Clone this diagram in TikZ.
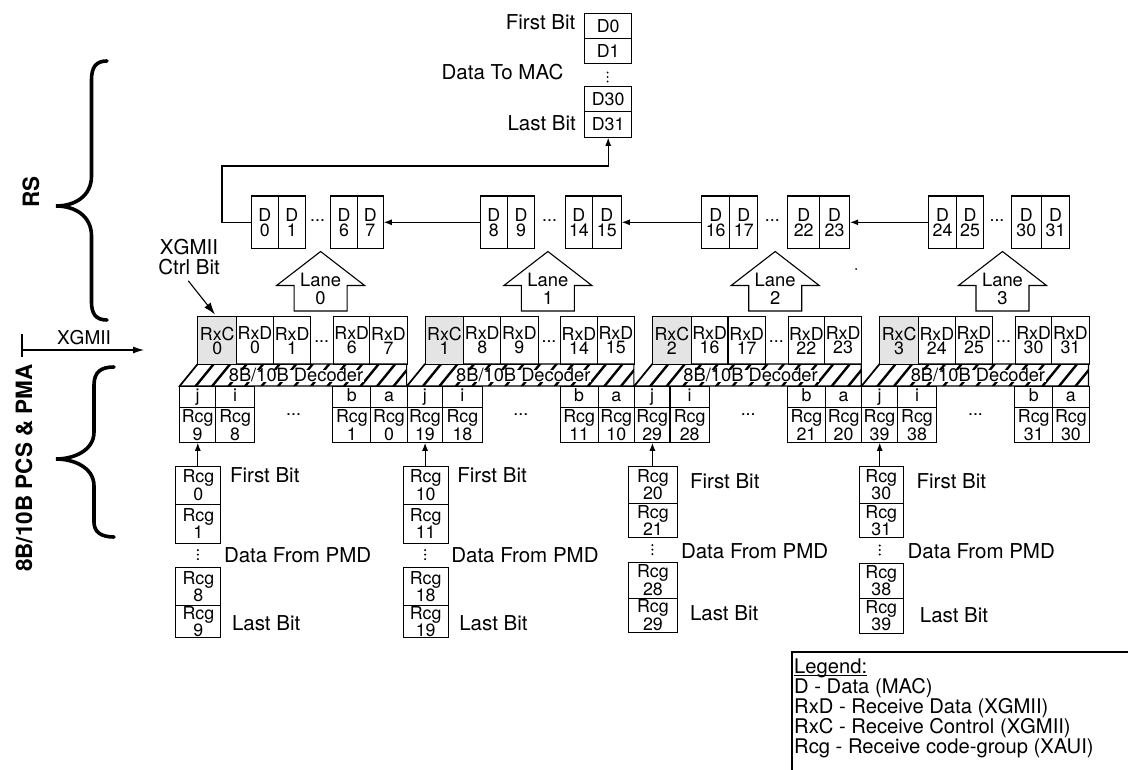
\documentclass[tikz,border=0pt]{standalone}
\usepackage{fontspec}
\setmainfont{TeX Gyre Heros}
\usetikzlibrary{arrows.meta}
\definecolor{ctrlgray}{HTML}{E4E4E4}
\newcommand\mybox[7][]{%
  \pgfmathsetmacro\mybw{(#5)-(#3)}%
  \pgfmathsetmacro\mybh{(#6)-(#4)}%
  \node[cell,#1,minimum width=\mybw pt,minimum height=\mybh pt] (#2) at ({#3},{#4}) {#7};}
\newcommand\myvdots[2]{%
  \fill ({#1},{#2-4.5}) circle (1.1pt);
  \fill ({#1},{#2}) circle (1.1pt);
  \fill ({#1},{#2+4.5}) circle (1.1pt);}
\newcommand\myul[1]{\setbox0\hbox{#1}\rlap{\rule[-2.2pt]{\wd0}{1pt}}\box0}
\begin{document}
\begin{tikzpicture}[x=1pt,y=-1pt,
  cell/.style={draw,line width=1.1pt,inner sep=0pt,align=center,anchor=north west,font=\fontsize{17.8}{14}\selectfont},
  dcell/.style={font=\fontsize{17.8}{15}\selectfont},
  letter/.style={text height=12pt,text depth=3.5pt},
  ctrl/.style={fill=ctrlgray},
  lbl/.style={inner sep=0pt,font=\fontsize{20.5}{20.6}\selectfont},
  dotsn/.style={inner sep=0pt,font=\fontsize{17.8}{14}\selectfont},
  arr/.style={line width=1.1pt,-{Latex[length=8pt,width=6pt]}},
  side/.style={inner sep=0pt,font=\fontsize{22.5}{22}\selectfont\bfseries,rotate=90},
  lanetxt/.style={inner sep=0pt,align=center,font=\fontsize{18.4}{18}\selectfont},
  dec/.style={fill=white,inner xsep=1pt,inner ysep=0pt,text height=12pt,text depth=0.5pt,font=\fontsize{18.3}{18}\selectfont},
  legendtxt/.style={inner sep=0pt,align=left,anchor=north west,font=\fontsize{20.2}{20}\selectfont},
  brace/.style={line width=3.6pt,line cap=round}
]
\useasboundingbox (0,0) rectangle (1128,770);
\fill[white] (0,0) rectangle (1128,770);

% ---------- top stack (data to MAC)
\mybox{t0}{584.3}{13.3}{631}{37.7}{D0}
\mybox{t1}{584.3}{37.7}{631}{63.3}{D1}
\myvdots{607.6}{77}
\mybox{t30}{584.3}{86}{631}{111}{D30}
\mybox{t31}{584.3}{111}{631}{136.7}{D31}
\node[lbl,anchor=east] (tfb) at (575.5,21.7) {First Bit};
\node[lbl,anchor=east] (tdm) at (563.5,71.7) {Data To MAC};
\node[lbl,anchor=east] (tlb) at (576,123) {Last Bit};

% ---------- lanes
\foreach \k/\da/\db/\dc/\dd/\de/\df/\ya/\yb/\yc/\yd/\ye/\yf/\sh/\sw/\fx/\fy/\mx/\my/\lx/\ly in {%
 0/251/277.7/305/330.3/356.7/382.7/465.7/503.5/542.5/566.7/605/636.7/-22.5/45/32/475/26/555/34/623.3,
 1/480/506.7/534.3/565/591.7/620.7/465.7/503.5/542.5/566.7/605/636.7/-22.5/45/32/475/26/555/34/623.3,
 2/701/729.3/757.3/787.3/819/849/465.7/502.7/537.3/562/597.5/632/-24.5/49/37.4/481/28.4/550.7/37.4/612.7,
 3/928.3/955.7/983.3/1010.7/1040.7/1069.3/465.7/502.7/537.3/562.7/597.7/632.7/-21/44/36.7/481/27.7/550.7/40/615}{
  \pgfmathsetmacro\laneX{197.3+227.3*\k}
  \pgfmathsetmacro\laneJ{\laneX-18}
  \pgfmathsetmacro\laneA{\laneJ+18.5}
  \pgfmathsetmacro\laneT{\laneX+123.3}
  \pgfmathtruncatemacro\nDa{8*\k}
  \pgfmathtruncatemacro\nDb{8*\k+1}
  \pgfmathtruncatemacro\nDc{8*\k+6}
  \pgfmathtruncatemacro\nDd{8*\k+7}
  \pgfmathtruncatemacro\nRa{10*\k+9}
  \pgfmathtruncatemacro\nRb{10*\k+8}
  \pgfmathtruncatemacro\nRc{10*\k+1}
  \pgfmathtruncatemacro\nRd{10*\k}
  \pgfmathtruncatemacro\nSa{10*\k}
  \pgfmathtruncatemacro\nSb{10*\k+1}
  \pgfmathtruncatemacro\nSc{10*\k+8}
  \pgfmathtruncatemacro\nSd{10*\k+9}
  % D row
  \mybox[dcell]{dA\k}{\da}{195.5}{\db}{248}{D\\\nDa}
  \mybox[dcell]{dB\k}{\db}{195.5}{\dc}{248}{D\\\nDb}
  \node[dotsn] (ddots\k) at ({(\dc+\dd)/2},221) {...};
  \mybox[dcell]{dC\k}{\dd}{195.5}{\de}{248}{D\\\nDc}
  \mybox[dcell]{dD\k}{\de}{195.5}{\df}{248}{D\\\nDd}
  % lane arrow
  \draw[line width=1.1pt,fill=white] (\laneT,251.5) -- ({\laneT+44},285.5) -- ({\laneT+26.5},285.5) -- ({\laneT+26.5},311) -- ({\laneT-26.5},311) -- ({\laneT-26.5},285.5) -- ({\laneT-44},285.5) -- cycle;
  \node[lanetxt] (lane\k) at (\laneT,289) {Lane\\\k};
  % decoder band
  \begin{scope}
    \clip (\laneJ,386) -- (\laneX,364) -- ({\laneX+209.3},364) -- ({\laneX+209.3},386) -- cycle;
    \foreach \s in {0,...,13}{\draw[line width=2.4pt] ({\laneJ+16.5*\s-3.3},390) -- ++(24.5,-30);}
  \end{scope}
  \draw[line width=1.1pt] (\laneJ,386) -- (\laneX,364) -- ({\laneX+209.3},364) -- ({\laneX+209.3},386) -- cycle;
  \node[dec] (dec\k) at ({\laneX+98.7},376) {8B/10B Decoder};
  % XGMII row
  \mybox[ctrl]{rxc\k}{\laneX}{316}{\laneX+38.7}{364}{RxC\\\k}
  \mybox{rxa\k}{\laneX+38.7}{316}{\laneX+75.5}{364}{RxD\\\nDa}
  \mybox{rxb\k}{\laneX+75.5}{316}{\laneX+113}{364}{RxD\\\nDb}
  \node[dotsn] (rdots\k) at ({\laneX+124.4},341.7) {...};
  \mybox{rxc\k x}{\laneX+135.7}{316}{\laneX+172}{364}{RxD\\\nDc}
  \mybox{rxd\k}{\laneX+172}{316}{\laneX+209.3}{364}{RxD\\\nDd}
  % code-group row
  \mybox[letter]{lj\k}{\laneJ}{386}{\laneJ+35.5}{407}{j}
  \mybox[letter]{li\k}{\laneJ+35.5}{386}{\laneJ+75}{407}{i}
  \mybox[letter]{lb\k}{\laneJ+153}{386}{\laneJ+191}{407}{b}
  \mybox[letter]{la\k}{\laneJ+191}{386}{\laneJ+227.3}{407}{a}
  \mybox{rj\k}{\laneJ}{407}{\laneJ+35.5}{441.7}{Rcg\\\nRa}
  \mybox{ri\k}{\laneJ+35.5}{407}{\laneJ+75}{441.7}{Rcg\\\nRb}
  \node[dotsn] (bdots\k) at ({\laneJ+114.3},415) {...};
  \mybox{rb\k}{\laneJ+153}{407}{\laneJ+191}{441.7}{Rcg\\\nRc}
  \mybox{ra\k}{\laneJ+191}{407}{\laneJ+227.3}{441.7}{Rcg\\\nRd}
  % input stack
  \mybox{sa\k}{\laneA+\sh}{\ya}{\laneA+\sh+\sw}{\yb}{Rcg\\\nSa}
  \mybox{sb\k}{\laneA+\sh}{\yb}{\laneA+\sh+\sw}{\yc}{Rcg\\\nSb}
  \pgfmathsetmacro\midy{(\yc+\yd)/2}
  \myvdots{\laneA}{\midy}
  \mybox{sc\k}{\laneA+\sh}{\yd}{\laneA+\sh+\sw}{\ye}{Rcg\\\nSc}
  \mybox{sd\k}{\laneA+\sh}{\ye}{\laneA+\sh+\sw}{\yf}{Rcg\\\nSd}
  \draw[arr] (sa\k.north -| \laneA,0) -- (rj\k.south -| \laneA,0);
  \node[lbl,anchor=west] (fb\k) at ({\laneA+\fx},\fy) {First Bit};
  \node[lbl,anchor=west] (dp\k) at ({\laneA+\mx},\my) {Data From PMD};
  \node[lbl,anchor=west] (lb\k) at ({\laneA+\lx},\ly) {Last Bit};
}

% ---------- connectors between D groups
\draw[arr] (dA1.west) -- (dD0.east);
\draw[arr] (dA2.west) -- (dD1.east);
\draw[arr] (dA3.west) -- (dD2.east);
\coordinate (corner) at (222,166);
\draw[arr] (dA0.west) -| (corner) -| (t31.south);
\fill (856,269) circle (1pt);

% ---------- XGMII ctrl bit label
\node[lbl,align=center] (xgc) at (189,257) {XGMII\\Ctrl Bit};
\draw[line width=1.1pt,-{Latex[length=12pt,width=8pt]}] ([xshift=-0.7pt,yshift=-5.5pt]xgc.south) -- ([xshift=17.7pt,yshift=1.5pt]rxc0.north west);

% ---------- left side
\draw[brace] (107,61) .. controls (96,61) and (91.5,67) .. (91.5,80) -- (91.5,176)
  .. controls (91.5,196) and (75,206) .. (56,206)
  .. controls (75,206) and (91.5,216) .. (91.5,236) -- (91.5,302)
  .. controls (91.5,314) and (96,320) .. (107,320);
\draw[brace] (114,367) .. controls (101,367) and (94,372) .. (94,385) -- (94,432)
  .. controls (94,451) and (73,459) .. (56,459)
  .. controls (73,459) and (94,467) .. (94,486) -- (94,522)
  .. controls (94,532) and (101,537) .. (114,537);
\node[side] (rs) at (31,192) {RS};
\node[side] (pcs) at (24,468) {8B/10B PCS \& PMA};
\coordinate (xgl) at (22,350);
\coordinate (xgr) at (144,350);
\draw[line width=1.2pt,-{Latex[length=11pt,width=7pt]}] (xgl) -- (xgr);
\draw[line width=1.2pt] (22,334) -- (22,357);
\node[lbl,font=\fontsize{19}{20}\selectfont] (xgmii) at (84,338) {XGMII};

% ---------- legend
\draw[line width=1.8pt] (1132,651.7) -- (791.7,651.7) -- (791.7,774);
\node[legendtxt] (legend) at (794,659) {\myul{Legend:}\\D - Data (MAC)\\RxD - Receive Data (XGMII)\\RxC - Receive Control (XGMII)\\Rcg - Receive code-group (XAUI)};
\end{tikzpicture}
\end{document}
